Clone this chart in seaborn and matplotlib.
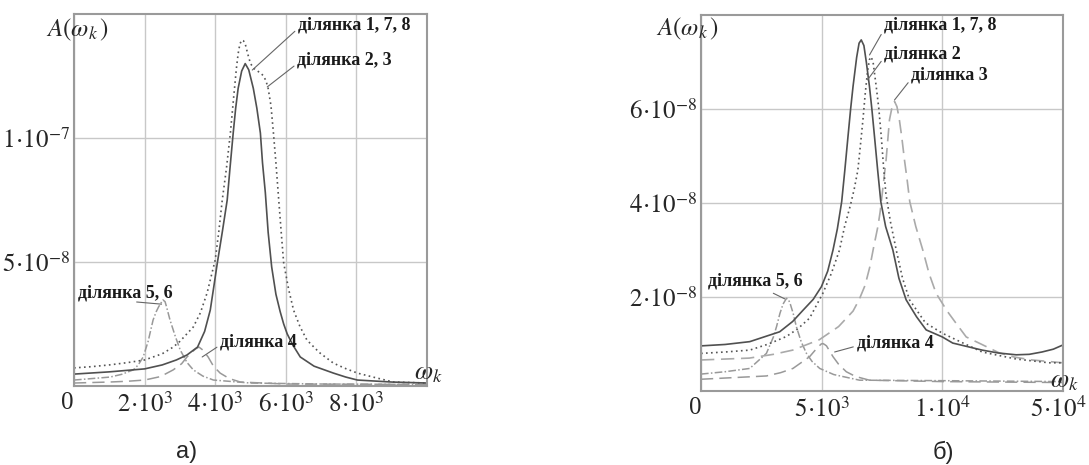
import numpy as np
import matplotlib
matplotlib.use("Agg")
import matplotlib.pyplot as plt
import matplotlib.transforms as mtransforms
import seaborn as sns

sns.set_style("white")
plt.rcParams["font.family"] = ["Liberation Serif", "DejaVu Serif"]
plt.rcParams["mathtext.fontset"] = "stix"

# amplitudes are in units of 1e-9
SCALE = 1e-9

# ---- panel а)
a_x_178 = [0, 1000, 2000, 2500, 2900, 3200, 3500, 3700, 3860, 3960, 4060, 4200,
           4340, 4420, 4510, 4580, 4650, 4750, 4850, 4950, 5080, 5180, 5280,
           5340, 5420, 5500, 5600, 5720, 5840, 5940, 6040, 6200, 6410, 6800,
           7350, 7700, 8030, 9000, 10000]
a_y_178 = [4.8, 5.7, 6.9, 8.5, 10.5, 12.5, 15.7, 22, 30.6, 40, 49.6, 62,
           75, 88, 102, 112, 120, 127, 130, 127.5, 120, 112, 102,
           90, 78, 62, 48, 37, 30, 25, 21, 16.5, 11.7, 8,
           5.2, 3.6, 2.4, 1.6, 1.2]

a_x_23 = [0, 500, 1000, 1500, 2000, 2500, 2810, 3000, 3380, 3580, 3770, 4000,
          4100, 4200, 4320, 4430, 4520, 4600, 4650, 4700, 4760, 4800, 4850,
          4920, 5000, 5100, 5200, 5300, 5370, 5440, 5500, 5580, 5650, 5720,
          5800, 5870, 5940, 6080, 6220, 6400, 6600, 6950, 7350, 7700, 8030,
          8500, 9050, 10000]
a_y_23 = [7.3, 7.8, 8.5, 9.4, 10.5, 13, 15.7, 18, 23.8, 29.5, 37.5, 50.8,
          62, 75, 88, 102, 116, 128, 134, 138, 139.5, 139.2, 138,
          134, 130, 128, 127, 126, 125, 123, 120, 113, 102, 90,
          75, 62, 49.6, 39, 30.6, 24, 18.5, 13.5, 9.2, 7, 5.2,
          3.5, 1.6, 1.2]

a_x_56 = [0, 1020, 1350, 1680, 1820, 1960, 2100, 2240, 2330, 2400, 2520, 2580,
          2620, 2720, 2870, 3010, 3200, 3380, 3650, 3950, 5000, 7000, 10000]
a_y_56 = [2.4, 3.6, 4.7, 6.5, 8.5, 11.7, 18, 26.6, 30, 32, 34.7, 34,
          32, 26.6, 20, 14.5, 9.5, 6.5, 4, 2.4, 1.2, 0.8, 0.6]

a_x_4 = [0, 1000, 1500, 2000, 2450, 2810, 3050, 3200, 3350, 3450, 3540, 3650,
         3730, 3800, 3950, 4140, 4400, 4710, 6000, 10000]
a_y_4 = [1.2, 1.6, 1.9, 2.4, 3.8, 6.5, 9, 11.7, 13.8, 15.0, 15.7, 14.5,
         13, 11.7, 8, 5.2, 3, 1.6, 0.8, 0.6]

a_xticks = [0, 2000, 4000, 6000, 8000]
a_xticklabels = ["0", r"$2\!\cdot\!10^{3}$", r"$4\!\cdot\!10^{3}$",
                 r"$6\!\cdot\!10^{3}$", r"$8\!\cdot\!10^{3}$"]
a_yticks = [5e-8, 1e-7]
a_yticklabels = [r"$5\!\cdot\!10^{-8}$", r"$1\!\cdot\!10^{-7}$"]

# ---- panel б)
b_x_178 = [0, 1000, 2020, 3260, 3800, 4230, 4650, 4990, 5250, 5470, 5650, 5830,
           5960, 6090, 6200, 6300, 6450, 6550, 6640, 6750, 6850, 6980, 7080,
           7190, 7320, 7450, 7650, 7950, 8200, 8500, 8930, 9330, 10000, 10430,
           11650, 12300, 13060, 13600, 14130, 14600, 15000]
b_y_178 = [9.6, 9.9, 10.5, 12.6, 14.8, 17.2, 19.5, 22.2, 25.5, 30, 34.5, 40.3,
           47, 54.1, 60, 64.8, 71, 74, 74.7, 73.5, 70, 64.8, 60,
           54.1, 47, 40.3, 35, 30, 24, 19.4, 15.8, 13, 11.5, 10.2,
           8.7, 8.1, 7.7, 7.8, 8.3, 8.9, 9.8]

b_x_2 = [0, 1000, 2020, 2800, 3540, 4000, 4500, 5050, 5400, 5740, 5950, 6190,
         6350, 6500, 6600, 6710, 6800, 6900, 6980, 7050, 7130, 7260, 7370,
         7470, 7560, 7660, 7850, 8090, 8350, 8640, 9300, 10000, 10570, 11650,
         13060, 14420, 15000]
b_y_2 = [8.0, 8.3, 8.7, 10, 11.6, 13.2, 15.5, 20.8, 25, 30, 35, 39.5,
         43, 47, 52, 57.7, 63, 68, 70.5, 71.1, 70, 64.8, 60,
         54.1, 48, 42, 36, 30, 24, 19.4, 14.5, 12.3, 10.9, 8.3,
         6.8, 6.0, 6.0]

b_x_3 = [0, 2000, 3000, 3800, 4900, 5700, 6300, 6550, 6800, 7000, 7150, 7330,
         7420, 7510, 7670, 7810, 7900, 8020, 8120, 8220, 8320, 8430, 8540,
         8650, 8900, 9190, 9450, 9740, 10200, 10570, 10990, 11600, 12360,
         13000, 13720, 15000]
b_y_3 = [6.6, 7.0, 7.8, 8.7, 10.9, 13.7, 17, 19.4, 22.5, 26.5, 30.5, 35,
         38, 42, 49.2, 57.7, 60, 61.6, 60.5, 57.7, 54, 49.2, 45,
         40.3, 35, 30, 25, 20.8, 17, 14.4, 11.5, 10, 8.1,
         7.2, 6.6, 6.0]

b_x_56 = [0, 1000, 2020, 2710, 3000, 3130, 3270, 3400, 3540, 3620, 3700, 3820,
          3950, 4150, 4370, 4600, 4920, 5500, 6570, 10000, 15000]
b_y_56 = [3.6, 4.1, 4.8, 8.0, 11.5, 13.7, 16.5, 18.5, 19.7, 19.5, 18.5, 16.5,
          13.7, 10.5, 8.0, 6.3, 4.8, 3.5, 2.3, 2.2, 2.0]

b_x_4 = [0, 2710, 3300, 3810, 4500, 4700, 4900, 4980, 5050, 5120, 5200, 5330,
         5470, 5700, 6020, 6400, 6980, 10000, 15000]
b_y_4 = [2.5, 3.2, 3.9, 4.8, 7.3, 8.5, 9.6, 10, 10.1, 9.9, 9.6, 8.5,
         7.3, 5.7, 4.1, 3.1, 2.3, 2.0, 1.8]

b_xticks = [0, 5000, 10000, 15000]
b_xticklabels = ["0", r"$5\!\cdot\!10^{3}$", r"$1\!\cdot\!10^{4}$", r"$5\!\cdot\!10^{4}$"]
b_yticks = [2e-8, 4e-8, 6e-8]
b_yticklabels = [r"$2\!\cdot\!10^{-8}$", r"$4\!\cdot\!10^{-8}$", r"$6\!\cdot\!10^{-8}$"]

label_178 = "ділянка 1, 7, 8"
label_23 = "ділянка 2, 3"
label_2 = "ділянка 2"
label_3 = "ділянка 3"
label_56 = "ділянка 5, 6"
label_4 = "ділянка 4"

SOLID = dict(color="#505050", lw=1.2, linestyle="-")
DOTTED = dict(color="#555555", lw=1.2, linestyle=(0, (1, 2)))
DASHED_LIGHT = dict(color="#aaaaaa", lw=1.2, linestyle=(0, (8, 4)))
DASHDOT = dict(color="#999999", lw=1.1, linestyle=(0, (5, 1.5, 1, 1.5)))
DASHED = dict(color="#999999", lw=1.1, linestyle=(0, (8, 4)))

fig = plt.figure(figsize=(10.89, 4.65), dpi=100)
ax_a = fig.add_axes([74 / 1089, 79 / 465, 353 / 1089, 372 / 465])
ax_b = fig.add_axes([701 / 1089, 74 / 465, 362 / 1089, 376 / 465])


def draw(ax, x, y, style):
    sns.lineplot(x=np.array(x), y=np.array(y) * SCALE, ax=ax, **style)


draw(ax_a, a_x_56, a_y_56, DASHDOT)
draw(ax_a, a_x_4, a_y_4, DASHED)
draw(ax_a, a_x_23, a_y_23, DOTTED)
draw(ax_a, a_x_178, a_y_178, SOLID)

draw(ax_b, b_x_56, b_y_56, DASHDOT)
draw(ax_b, b_x_4, b_y_4, DASHED)
draw(ax_b, b_x_3, b_y_3, DASHED_LIGHT)
draw(ax_b, b_x_2, b_y_2, DOTTED)
draw(ax_b, b_x_178, b_y_178, SOLID)

ax_a.set_xlim(0, 10000)
ax_a.set_ylim(0, 1.5e-7)
ax_b.set_xlim(0, 15000)
ax_b.set_ylim(0, 8e-8)

for ax, xt, xl, yt, yl in [(ax_a, a_xticks, a_xticklabels, a_yticks, a_yticklabels),
                           (ax_b, b_xticks, b_xticklabels, b_yticks, b_yticklabels)]:
    ax.set_xticks(xt)
    ax.set_xticklabels(xl)
    ax.set_yticks(yt)
    ax.set_yticklabels(yl)
    ax.tick_params(length=0, labelsize=18, pad=3)
    ax.tick_params(axis="x", pad=4)
    ax.xaxis.get_ticklabels()[0].set_horizontalalignment("right")
    ax.grid(True, color="#c8c8c8", lw=1)
    for s in ax.spines.values():
        s.set_color("#9a9a9a")
        s.set_linewidth(1.5)
    ax.set_xlabel("")
    ax.set_ylabel("")

# keep the last label of panel б) inside the picture
last = ax_b.xaxis.get_ticklabels()[-1]
last.set_transform(last.get_transform()
                   + mtransforms.ScaledTranslation(-5 / 100, 0, fig.dpi_scale_trans))

lab = dict(fontsize=13, fontweight="bold", color="#1a1a1a", va="center", ha="left")
lead = dict(arrowstyle="-", color="#666666", lw=0.8, shrinkA=0, shrinkB=0)

ax_a.annotate(label_178, xy=(5050, 1.274e-7), xytext=(6350, 1.456e-7),
              arrowprops=dict(relpos=(0, 0.3), **lead), **lab)
ax_a.annotate(label_23, xy=(5475, 1.206e-7), xytext=(6326, 1.314e-7),
              arrowprops=dict(relpos=(0, 0.3), **lead), **lab)
ax_a.annotate(label_56, xy=(2480, 3.3e-8), xytext=(113, 3.73e-8),
              arrowprops=dict(relpos=(0.62, 0.0), **lead), **lab)
ax_a.annotate(label_4, xy=(3631, 1.17e-8), xytext=(4142, 1.79e-8),
              arrowprops=dict(relpos=(0, 0.3), **lead), **lab)

ax_b.annotate(label_178, xy=(6983, 7.15e-8), xytext=(7603, 7.78e-8),
              arrowprops=dict(relpos=(0, 0.3), **lead), **lab)
ax_b.annotate(label_2, xy=(6900, 6.62e-8), xytext=(7603, 7.18e-8),
              arrowprops=dict(relpos=(0, 0.3), **lead), **lab)
ax_b.annotate(label_3, xy=(8016, 6.19e-8), xytext=(8719, 6.72e-8),
              arrowprops=dict(relpos=(0, 0.3), **lead), **lab)
ax_b.annotate(label_56, xy=(3471, 1.96e-8), xytext=(289, 2.33e-8),
              arrowprops=dict(relpos=(0.62, 0.0), **lead), **lab)
ax_b.annotate(label_4, xy=(5537, 8.3e-9), xytext=(6446, 1.03e-8),
              arrowprops=dict(relpos=(0, 0.3), **lead), **lab)

# axis captions placed like in the original
fig.text(78 / 1089, 1 - 30 / 465, r"$A(\omega_k\,)$", fontsize=18, ha="center", va="center")
fig.text(688 / 1089, 1 - 29 / 465, r"$A(\omega_k\,)$", fontsize=18, ha="center", va="center")
fig.text(428 / 1089, 1 - 374 / 465, r"$\omega_k$", fontsize=19, ha="center", va="center")
fig.text(1064 / 1089, 1 - 382 / 465, r"$\omega_k$", fontsize=19, ha="center", va="center")

fig.text(187 / 1089, 1 - 452 / 465, "а)", fontsize=17, ha="center", va="center",
         family="Liberation Sans")
fig.text(943 / 1089, 1 - 452 / 465, "б)", fontsize=17, ha="center", va="center",
         family="Liberation Sans")

fig.savefig("out.png", dpi=100, facecolor="white")
